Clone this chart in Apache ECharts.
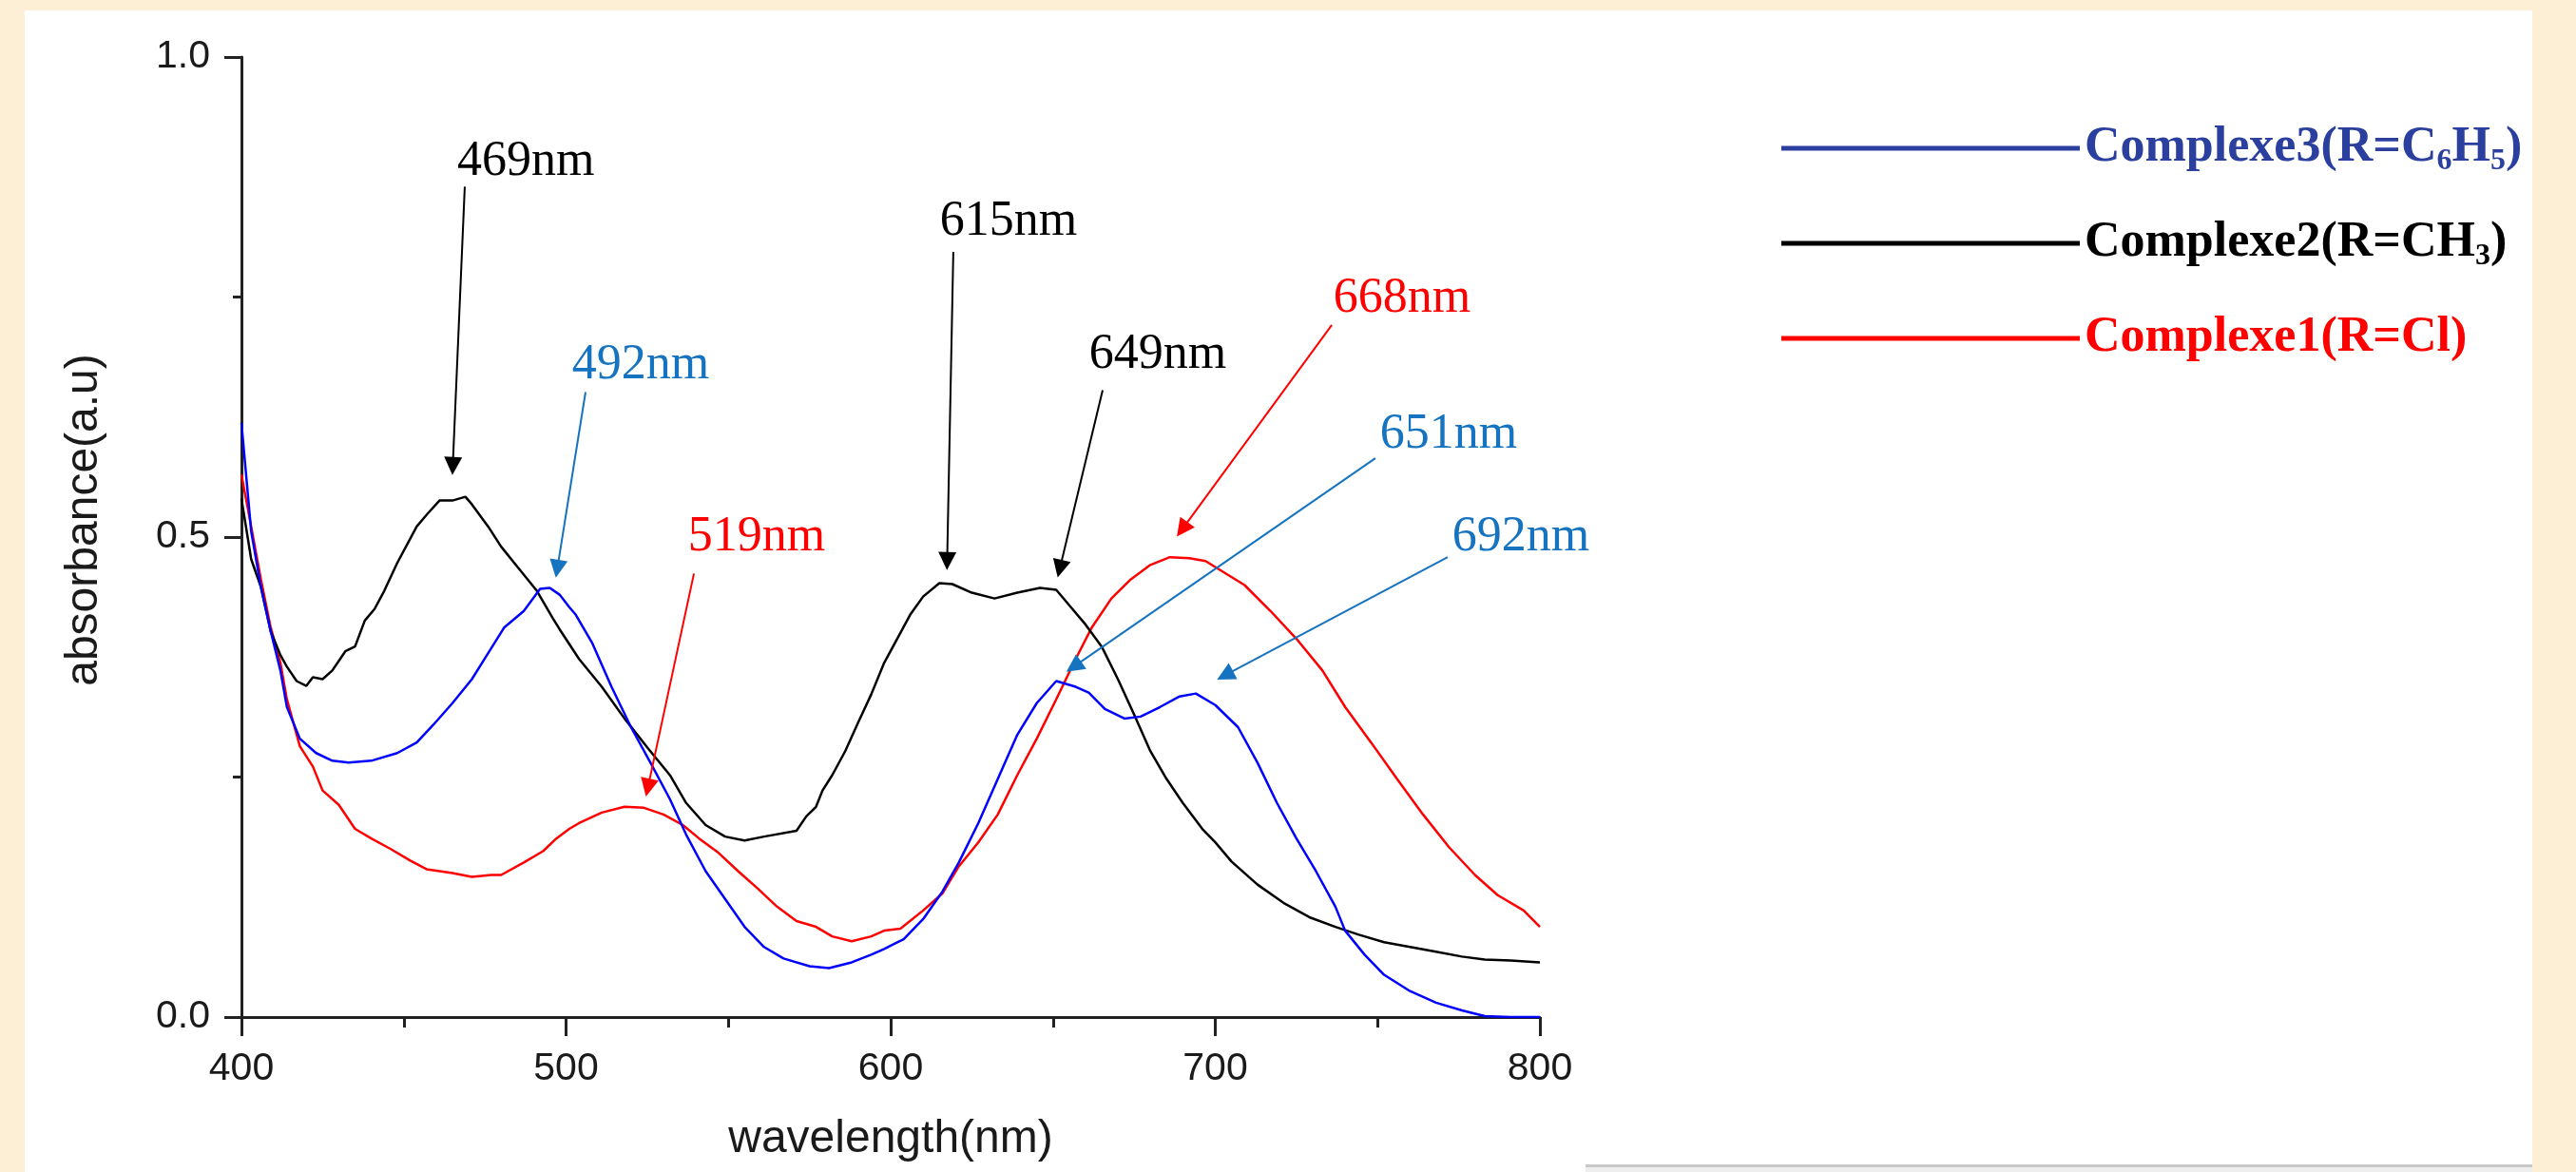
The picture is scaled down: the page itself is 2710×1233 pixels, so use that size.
<!DOCTYPE html>
<html>
<head>
<meta charset="utf-8">
<script src="https://cdn.jsdelivr.net/npm/echarts@6/dist/echarts.min.js"></script>
<style>
  html, body { margin: 0; padding: 0; background: #fdefd5; }
  #chart { width: 2710px; height: 1233px; }
</style>
</head>
<body>
<div id="chart"></div>
<script>
// Complexe3 (R=C6H5) - blue
const wlComplexe3 = [400, 403, 406, 409, 412, 414, 418, 423, 428, 433, 440, 448, 454, 459, 465, 471, 476, 481, 487, 492, 495, 498, 501,
  503, 508, 514, 520, 526, 532, 537, 543, 549, 555, 561, 567, 575, 581, 588, 594, 598,
  601, 604, 610, 616, 621, 627, 633, 639, 645, 651, 657, 661, 666, 672, 677, 683, 689, 694, 700,
  707, 713, 719, 725, 731, 737, 740, 746, 752, 760, 768, 776, 783, 791, 800]
const absComplexe3 = [0.619, 0.506, 0.448, 0.402, 0.361, 0.323, 0.290, 0.275, 0.267, 0.265, 0.267, 0.275, 0.286, 0.304, 0.327, 0.352, 0.379, 0.406, 0.423, 0.446, 0.447, 0.440, 0.427,
  0.419, 0.390, 0.344, 0.302, 0.265, 0.227, 0.190, 0.152, 0.123, 0.094, 0.073, 0.061, 0.053, 0.051, 0.057, 0.065, 0.071,
  0.076, 0.081, 0.102, 0.131, 0.161, 0.202, 0.248, 0.294, 0.327, 0.350, 0.344, 0.338, 0.321, 0.311, 0.313, 0.323, 0.334, 0.337, 0.325,
  0.302, 0.265, 0.223, 0.186, 0.152, 0.115, 0.090, 0.065, 0.044, 0.027, 0.015, 0.007, 0.001, 0.0, 0.0]

// Complexe2 (R=CH3) - black
const wlComplexe2 = [400, 403, 406, 409, 412, 414, 417, 420, 422, 425, 428, 432, 435, 438, 441, 444, 448, 454, 457, 461, 465, 469, 471, 476, 480, 485, 491, 496,
  498, 504, 511, 518, 525, 532, 537, 543, 549, 555, 561, 571, 574, 577, 579, 582, 586, 590, 594,
  598, 602, 606, 610, 615, 619, 625, 632, 639, 646, 651, 656, 660, 665, 670, 675, 680, 685, 690, 696, 700,
  705, 713, 721, 729, 737, 744, 752, 760, 768, 776, 783, 791, 800]
const absComplexe2 = [0.540, 0.477, 0.448, 0.402, 0.377, 0.365, 0.350, 0.345, 0.354, 0.352, 0.361, 0.381, 0.386, 0.413, 0.425, 0.444, 0.473, 0.511, 0.523, 0.538, 0.538, 0.542, 0.534, 0.511, 0.490, 0.469, 0.444, 0.415,
  0.404, 0.373, 0.344, 0.311, 0.281, 0.252, 0.223, 0.200, 0.188, 0.184, 0.188, 0.194, 0.209, 0.219, 0.236, 0.252, 0.277, 0.307, 0.336,
  0.369, 0.394, 0.419, 0.438, 0.452, 0.451, 0.442, 0.436, 0.442, 0.447, 0.445, 0.425, 0.409, 0.386, 0.352, 0.315, 0.277, 0.248, 0.223, 0.196, 0.182,
  0.162, 0.138, 0.119, 0.104, 0.094, 0.086, 0.078, 0.073, 0.068, 0.063, 0.060, 0.059, 0.057]

// Complexe1 (R=Cl) - red
const wlComplexe1 = [400, 403, 406, 409, 412, 414, 418, 422, 425, 430, 435, 440, 446, 452, 457, 465, 471, 477, 480, 487, 493, 497,
  501, 504, 511, 518, 524, 530, 536, 541, 547, 553, 559, 565, 571, 577, 582, 588, 594,
  598, 603, 610, 616, 621, 627, 633, 639, 645, 651, 657, 662, 668, 674, 680, 686, 692, 697,
  709, 717, 725, 733, 740, 748, 756, 764, 772, 780, 787, 795, 800]
const absComplexe1 = [0.565, 0.511, 0.456, 0.406, 0.369, 0.331, 0.282, 0.261, 0.236, 0.221, 0.196, 0.186, 0.175, 0.163, 0.154, 0.150, 0.146, 0.148, 0.148, 0.161, 0.173, 0.186,
  0.196, 0.202, 0.213, 0.219, 0.218, 0.211, 0.200, 0.186, 0.171, 0.152, 0.134, 0.115, 0.100, 0.094, 0.084, 0.079, 0.084,
  0.090, 0.092, 0.111, 0.129, 0.157, 0.182, 0.211, 0.252, 0.290, 0.331, 0.373, 0.406, 0.436, 0.456, 0.471, 0.479, 0.478, 0.475,
  0.450, 0.423, 0.394, 0.361, 0.323, 0.286, 0.248, 0.211, 0.177, 0.148, 0.127, 0.111, 0.094]

const seriesNames = ['Complexe3(R=C6H5)', 'Complexe2(R=CH3)', 'Complexe1(R=Cl)']

// peak annotations: label, label anchor [wl, abs], arrow start, arrow head
const peaksComplexe3 = [
  ['492nm', [523.0, 0.679], [506.0, 0.651], [497.3, 0.467]],
  ['651nm', [771.9, 0.607], [749.3, 0.582], [656.4, 0.365]],
  ['692nm', [794.1, 0.500], [771.6, 0.479], [703.0, 0.356]]
]
const peaksComplexe2 = [
  ['469nm', [487.6, 0.891], [468.8, 0.865], [465.1, 0.574]],
  ['615nm', [636.3, 0.828], [619.3, 0.797], [617.4, 0.475]],
  ['649nm', [682.3, 0.690], [665.3, 0.653], [652.1, 0.467]]
]
const peaksComplexe1 = [
  ['519nm', [558.7, 0.500], [539.4, 0.462], [525.2, 0.239]],
  ['668nm', [757.5, 0.748], [735.9, 0.721], [689.8, 0.508]]
]

const zip = (xs, ys) => xs.map((x, i) => [x, ys[i]])

function peakMarkers(peaks, color) {
  return {
    markLine: {
      silent: true,
      animation: false,
      symbol: ['none', 'triangle'],
      symbolSize: 19,
      label: { show: false },
      lineStyle: { color: color, width: 2, type: 'solid' },
      itemStyle: { color: color },
      data: peaks.map(p => [{ coord: p[2] }, { coord: p[3] }])
    },
    markPoint: {
      silent: true,
      animation: false,
      symbol: 'circle',
      symbolSize: 1,
      itemStyle: { color: 'rgba(0,0,0,0)' },
      label: {
        show: true,
        position: 'inside',
        fontFamily: 'Liberation Serif',
        fontSize: 52,
        color: color,
        formatter: p => p.name
      },
      data: peaks.map(p => ({ name: p[0], coord: p[1] }))
    }
  }
}

const axisColor = '#222'
const chart = echarts.init(document.getElementById('chart'))

const option = {
  backgroundColor: '#fdefd5',
  animation: false,
  graphic: [
    { type: 'rect', z: -10, silent: true, shape: { x: 26, y: 11, width: 2638, height: 1222 }, style: { fill: '#ffffff' } },
    { type: 'rect', z: -9, silent: true, shape: { x: 1668, y: 1225, width: 996, height: 8 }, style: { fill: '#eeeeee' } },
    { type: 'rect', z: -9, silent: true, shape: { x: 1668, y: 1225, width: 996, height: 3 }, style: { fill: '#c8c8c8' } }
  ],
  grid: { left: 254, right: 1090, top: 60, bottom: 163 },
  legend: {
    orient: 'vertical',
    left: 1869,
    top: 121,
    icon: 'rect',
    itemWidth: 314,
    itemHeight: 5,
    itemGap: 40,
    selectedMode: false,
    data: [
      { name: seriesNames[0], itemStyle: { color: '#2b3f9f' } },
      { name: seriesNames[1], itemStyle: { color: '#000000' } },
      { name: seriesNames[2], itemStyle: { color: '#ff0000' } }
    ],
    textStyle: {
      fontFamily: 'Liberation Serif',
      fontWeight: 'bold',
      fontSize: 52,
      lineHeight: 60,
      rich: {
        b3: { color: '#2b3f9f', fontFamily: 'Liberation Serif', fontWeight: 'bold', fontSize: 52, lineHeight: 60 },
        s3: { color: '#2b3f9f', fontFamily: 'Liberation Serif', fontWeight: 'bold', fontSize: 32, lineHeight: 34, verticalAlign: 'bottom' },
        b2: { color: '#000000', fontFamily: 'Liberation Serif', fontWeight: 'bold', fontSize: 52, lineHeight: 60 },
        s2: { color: '#000000', fontFamily: 'Liberation Serif', fontWeight: 'bold', fontSize: 32, lineHeight: 34, verticalAlign: 'bottom' },
        b1: { color: '#ff0000', fontFamily: 'Liberation Serif', fontWeight: 'bold', fontSize: 52, lineHeight: 60 }
      }
    },
    formatter: function (name) {
      if (name === seriesNames[0]) return '{b3|Complexe3(R=C}{s3|6}{b3|H}{s3|5}{b3|)}'
      if (name === seriesNames[1]) return '{b2|Complexe2(R=CH}{s2|3}{b2|)}'
      return '{b1|Complexe1(R=Cl)}'
    }
  },
  xAxis: {
    type: 'value',
    min: 400,
    max: 800,
    interval: 100,
    name: 'wavelength(nm)',
    nameLocation: 'middle',
    nameGap: 105,
    nameTextStyle: { fontFamily: 'Liberation Sans', fontSize: 48, color: '#1a1a1a' },
    axisLine: { show: true, onZero: false, lineStyle: { color: axisColor, width: 3 } },
    axisTick: { show: true, length: 20, lineStyle: { color: axisColor, width: 3 } },
    minorTick: { show: true, splitNumber: 2, length: 11, lineStyle: { color: axisColor, width: 3 } },
    axisLabel: { fontFamily: 'Liberation Sans', fontSize: 41, color: '#1a1a1a', margin: 34 },
    splitLine: { show: false }
  },
  yAxis: {
    type: 'value',
    min: 0,
    max: 1,
    interval: 0.5,
    name: 'absorbance(a.u)',
    nameLocation: 'middle',
    nameGap: 141,
    nameTextStyle: { fontFamily: 'Liberation Sans', fontSize: 48, color: '#1a1a1a', padding: [0, 0, 0, 36] },
    axisLine: { show: true, lineStyle: { color: axisColor, width: 3 } },
    axisTick: { show: true, length: 18, lineStyle: { color: axisColor, width: 3 } },
    minorTick: { show: true, splitNumber: 2, length: 9, lineStyle: { color: axisColor, width: 3 } },
    axisLabel: { fontFamily: 'Liberation Sans', fontSize: 41, color: '#1a1a1a', margin: 33, formatter: v => v.toFixed(1) },
    splitLine: { show: false }
  },
  series: [
    Object.assign({
      name: seriesNames[2],
      type: 'line',
      showSymbol: false,
      silent: true,
      color: '#ff0000',
      lineStyle: { color: '#ff0000', width: 2.5 },
      data: zip(wlComplexe1, absComplexe1)
    }, peakMarkers(peaksComplexe1, '#ff0000')),
    Object.assign({
      name: seriesNames[1],
      type: 'line',
      showSymbol: false,
      silent: true,
      color: '#000000',
      lineStyle: { color: '#000000', width: 2.5 },
      data: zip(wlComplexe2, absComplexe2)
    }, peakMarkers(peaksComplexe2, '#000000')),
    Object.assign({
      name: seriesNames[0],
      type: 'line',
      showSymbol: false,
      silent: true,
      color: '#0000ff',
      lineStyle: { color: '#0000ff', width: 2.5 },
      data: zip(wlComplexe3, absComplexe3)
    }, peakMarkers(peaksComplexe3, '#1573c0'))
  ]
}

chart.setOption(option)
window.addEventListener('resize', () => chart.resize())
</script>
</body>
</html>
